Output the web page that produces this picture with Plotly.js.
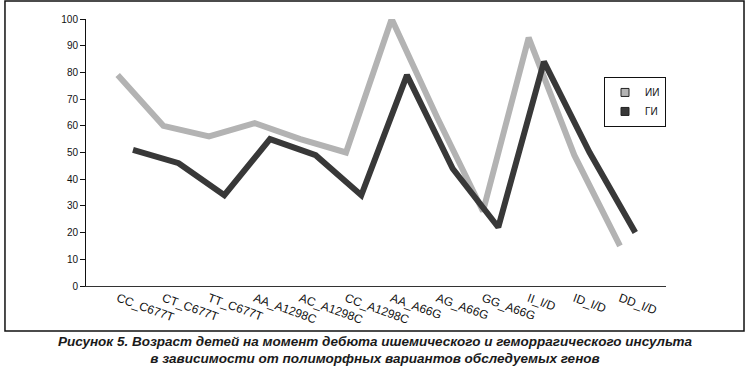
<!DOCTYPE html>
<html>
<head>
<meta charset="utf-8">
<script src="https://cdn.plot.ly/plotly-3.0.1.min.js"></script>
<style>html,body{margin:0;padding:0;background:#fff;}#chart{width:750px;height:370px;}</style>
</head>
<body>
<div id="chart"></div>
<script>
var categories = ["CC_C677T","CT_C677T","TT_C677T","AA_A1298C","AC_A1298C","CC_A1298C","AA_A66G","AG_A66G","GG_A66G","II_I/D","ID_I/D","DD_I/D"];
var seriesNames = ["ИИ","ГИ"];
var valuesII = [79,60,56,61,55,50,100,63,28,93,49,15];
var valuesGI = [51,46,34,55,49,34,79,44,22,84,50,20];
var yTicks = [0,10,20,30,40,50,60,70,80,90,100];
var captionLines = ["Рисунок 5. Возраст детей на момент дебюта ишемического и геморрагического инсульта","в зависимости от полиморфных вариантов обследуемых генов"];

var greyCol = "#b3b3b3", darkCol = "#383838";
var shift = 0.335;
var r0 = -0.694, r1 = 12.008;

var traces = [
  {x: categories, y: valuesII, type: "scatter", mode: "lines", xaxis: "x", yaxis: "y",
   line: {color: greyCol, width: 6}, showlegend: false, hoverinfo: "x+y", name: seriesNames[0]},
  {x: categories, y: valuesGI, type: "scatter", mode: "lines", xaxis: "x2", yaxis: "y",
   line: {color: darkCol, width: 6}, showlegend: false, hoverinfo: "x+y", name: seriesNames[1]},
  {x: [null], y: [null], type: "scatter", mode: "markers", name: seriesNames[0],
   marker: {symbol: "square", size: 8, color: greyCol, line: {color: "#222", width: 1}}},
  {x: [null], y: [null], type: "scatter", mode: "markers", name: seriesNames[1],
   marker: {symbol: "square", size: 8, color: darkCol, line: {color: "#222", width: 1}}}
];

var layout = {
  width: 750, height: 370,
  margin: {l: 86, r: 84, t: 19, b: 84, pad: 0},
  paper_bgcolor: "#fff", plot_bgcolor: "#fff",
  font: {family: "Liberation Sans, Arial, sans-serif", size: 10, color: "#111"},
  title: {
    text: "<b><i>" + captionLines.join("<br>") + "</i></b>",
    x: 0.5, xref: "container", xanchor: "center",
    y: 0.066, yref: "container", yanchor: "middle",
    font: {family: "Liberation Sans, Arial, sans-serif", size: 13.5, color: "#1a1a1a"}
  },
  xaxis: {
    type: "category", categoryorder: "array", categoryarray: categories,
    range: [r0, r1], showline: true, linecolor: "#333", linewidth: 1,
    showgrid: false, zeroline: false, ticks: "", tickangle: 20,
    tickfont: {size: 12, color: "#111"}, fixedrange: true
  },
  xaxis2: {
    type: "category", categoryorder: "array", categoryarray: categories,
    range: [r0 - shift, r1 - shift], overlaying: "x", anchor: "y",
    visible: false, fixedrange: true
  },
  yaxis: {
    range: [0, 100], tickvals: yTicks, ticktext: yTicks.map(String),
    showline: true, linecolor: "#111", linewidth: 1, ticks: "outside", ticklen: 5,
    tickcolor: "#111", showgrid: false, zeroline: false,
    tickfont: {size: 10, color: "#111"}, fixedrange: true
  },
  legend: {
    x: 1, xanchor: "right", y: 0.783, yanchor: "top",
    bordercolor: "#111", borderwidth: 1, bgcolor: "#fff",
    font: {size: 10, color: "#111"}, itemwidth: 30, tracegroupgap: 0
  },
  shapes: [
    {type: "rect", xref: "paper", yref: "paper", x0: -0.1397, x1: 1.1345, y0: -0.1685, y1: 1.0674,
     line: {color: "#111", width: 1.5}, fillcolor: "rgba(0,0,0,0)", layer: "below"}
  ]
};

Plotly.newPlot("chart", traces, layout, {displayModeBar: false, staticPlot: true});
</script>
</body>
</html>
